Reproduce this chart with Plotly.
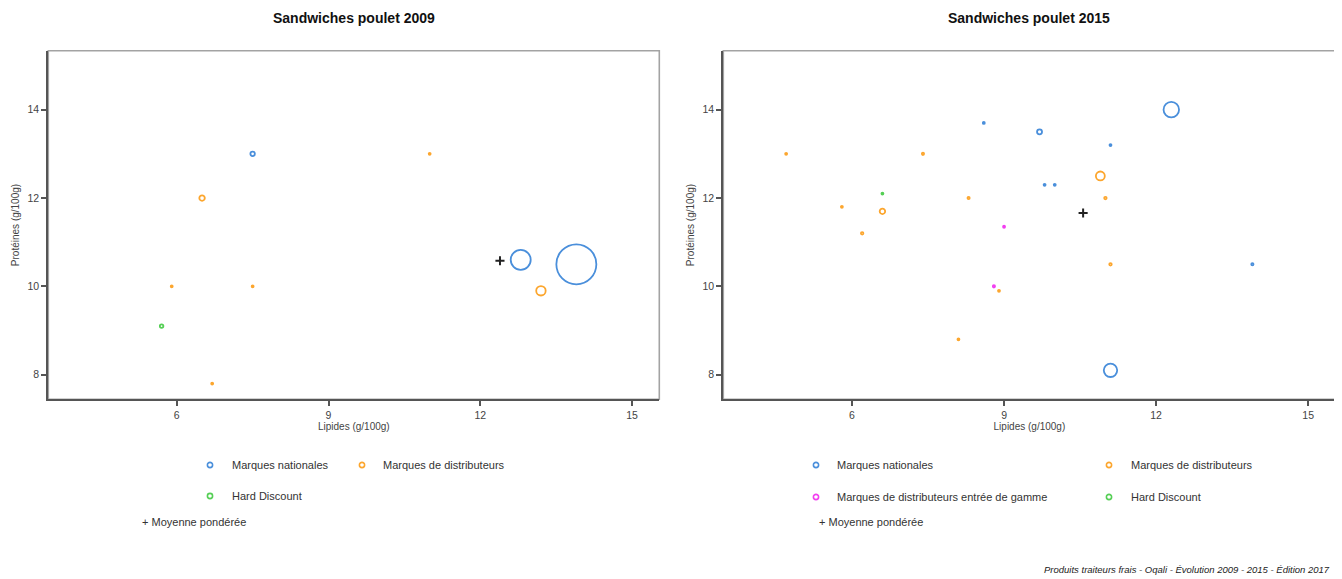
import numpy as np
import plotly.graph_objects as go

# page body has an 8px margin: the figure is sized to fit the remaining viewport
OFF = 8
W, H = 1342 - OFF, 579 - OFF

# ---------------- data ----------------
series_names = ["Marques nationales", "Marques de distributeurs",
                "Marques de distributeurs entrée de gamme", "Hard Discount"]
series_colors = ["#4a8fdb", "#fca62e", "#f23ef0", "#55cf55"]

titles = ["Sandwiches poulet 2009", "Sandwiches poulet 2015"]

# 2009
mn09_lip = [7.5, 12.8, 13.9]
mn09_pro = [13.0, 10.6, 10.5]
mn09_part = [0.4, 8.0, 32.0]

mdd09_lip = [6.5, 11.0, 5.9, 7.5, 6.7, 13.2]
mdd09_pro = [12.0, 13.0, 10.0, 10.0, 7.8, 9.9]
mdd09_part = [0.6, 0.08, 0.08, 0.08, 0.08, 1.8]

hd09_lip = [5.7]
hd09_pro = [9.1]
hd09_part = [0.25]

moy09_lip = [12.39]
moy09_pro = [10.58]

# 2015
mn15_lip = [8.6, 9.7, 12.3, 11.1, 9.8, 10.0, 13.9, 11.1]
mn15_pro = [13.7, 13.5, 14.0, 13.2, 12.3, 12.3, 10.5, 8.1]
mn15_part = [0.08, 0.5, 4.8, 0.08, 0.08, 0.08, 0.1, 3.6]

mdd15_lip = [4.7, 7.4, 5.8, 6.6, 6.2, 8.3, 10.9, 11.0, 11.1, 8.9, 8.1]
mdd15_pro = [13.0, 13.0, 11.8, 11.7, 11.2, 12.0, 12.5, 12.0, 10.5, 9.9, 8.8]
mdd15_part = [0.08, 0.1, 0.06, 0.6, 0.125, 0.1, 1.6, 0.125, 0.125, 0.08, 0.08]

mddeg15_lip = [9.0, 8.8]
mddeg15_pro = [11.35, 10.0]
mddeg15_part = [0.08, 0.1]

hd15_lip = [6.6]
hd15_pro = [12.1]
hd15_part = [0.06]

moy15_lip = [10.56]
moy15_pro = [11.66]

x_ticks = [6, 9, 12, 15]
y_ticks = [8, 10, 12, 14]
x_title = "Lipides (g/100g)"
y_title = "Protéines (g/100g)"
moy_label = "+ Moyenne pondérée"
footer = "Produits traiteurs frais - Oqali - Évolution 2009 - 2015 - Édition 2017"

# ---------------- helpers ----------------
def px(x):
    return (x - OFF) / W

def py(y):
    return 1 - (y - OFF) / H

def diam(part):
    return np.maximum(7.07 * np.sqrt(np.array(part, dtype=float)), 2.0)

FONT = "Liberation Sans, Arial, sans-serif"

fig = go.Figure()

def add_series(lip, pro, part, idx, ax):
    fig.add_trace(go.Scatter(
        x=lip, y=pro, mode="markers", name=series_names[idx],
        xaxis="x" + ax, yaxis="y" + ax, showlegend=False,
        marker=dict(symbol="circle-open", size=diam(part), opacity=1,
                    color=series_colors[idx],
                    line=dict(width=1.8, color=series_colors[idx])),
        hoverinfo="x+y+name"))

def add_mean(lip, pro, ax):
    fig.add_trace(go.Scatter(
        x=lip, y=pro, mode="markers", name="Moyenne pondérée",
        xaxis="x" + ax, yaxis="y" + ax, showlegend=False,
        marker=dict(symbol="cross-thin", size=6.5, color="#222", opacity=1,
                    line=dict(width=2, color="#222"))))

add_series(mn09_lip, mn09_pro, mn09_part, 0, "")
add_series(mdd09_lip, mdd09_pro, mdd09_part, 1, "")
add_series(hd09_lip, hd09_pro, hd09_part, 3, "")
add_mean(moy09_lip, moy09_pro, "")

add_series(mn15_lip, mn15_pro, mn15_part, 0, "2")
add_series(mdd15_lip, mdd15_pro, mdd15_part, 1, "2")
add_series(mddeg15_lip, mddeg15_pro, mddeg15_part, 2, "2")
add_series(hd15_lip, hd15_pro, hd15_part, 3, "2")
add_mean(moy15_lip, moy15_pro, "2")

# plot frames (pixel positions in the page)
frames = [(48.3, 659.3), (723.3, 1335.5)]
top_px, bot_px = 50.7, 399.3
xr = [3.46, 15.54]
yr = [7.443, 15.336]

axis_common = dict(showgrid=False, zeroline=False, showline=True,
                   linecolor="#555", linewidth=2, ticks="outside",
                   ticklen=5, tickwidth=1.5, tickcolor="#555",
                   tickfont=dict(family=FONT, size=10.5, color="#444"))

layout_axes = {}
for i, (l, r) in enumerate(frames):
    sfx = "" if i == 0 else "2"
    layout_axes["xaxis" + sfx] = dict(
        axis_common, domain=[px(l), px(r)], range=xr, tickvals=x_ticks,
        anchor="y" + sfx,
        title=dict(text=x_title, font=dict(family=FONT, size=10, color="#444"),
                   standoff=2))
    layout_axes["yaxis" + sfx] = dict(
        axis_common, domain=[py(bot_px), py(top_px)], range=yr, tickvals=y_ticks,
        anchor="x" + sfx,
        title=dict(text=y_title, font=dict(family=FONT, size=10, color="#444"),
                   standoff=6))

shapes = []
annotations = []
for i, (l, r) in enumerate(frames):
    shapes.append(dict(type="rect", xref="paper", yref="paper",
                       x0=px(l), x1=px(r), y0=py(bot_px), y1=py(top_px),
                       line=dict(color="#a3a3a3", width=1.6), layer="below"))
    annotations.append(dict(text="<b>" + titles[i] + "</b>", xref="paper", yref="paper",
                            x=px((l + r) / 2), y=py(18), xanchor="center", yanchor="middle",
                            showarrow=False, font=dict(family=FONT, size=14, color="#111")))

def legend_item(mx, my, idx, tx):
    shapes.append(dict(type="circle", xref="paper", yref="paper",
                       xsizemode="pixel", ysizemode="pixel",
                       xanchor=px(mx), yanchor=py(my),
                       x0=-2.6, x1=2.6, y0=-2.6, y1=2.6,
                       line=dict(color=series_colors[idx], width=1.6)))
    annotations.append(dict(text=series_names[idx], xref="paper", yref="paper",
                            x=px(tx), y=py(my), xanchor="left", yanchor="middle",
                            showarrow=False,
                            font=dict(family=FONT, size=11, color="#333")))

# left legend
legend_item(210, 465, 0, 230)
legend_item(362, 465, 1, 381)
legend_item(210, 496, 3, 230)
annotations.append(dict(text=moy_label, xref="paper", yref="paper", x=px(140), y=py(522),
                        xanchor="left", yanchor="middle", showarrow=False,
                        font=dict(family=FONT, size=11, color="#333")))
# right legend
legend_item(816, 465, 0, 835)
legend_item(1109, 465, 1, 1129)
legend_item(816, 497, 2, 835)
legend_item(1109, 497, 3, 1129)
annotations.append(dict(text=moy_label, xref="paper", yref="paper", x=px(817), y=py(522),
                        xanchor="left", yanchor="middle", showarrow=False,
                        font=dict(family=FONT, size=11, color="#333")))

annotations.append(dict(text="<i>" + footer + "</i>", xref="paper", yref="paper",
                        x=px(1332), y=py(569), xanchor="right", yanchor="middle",
                        showarrow=False,
                        font=dict(family=FONT, size=9.5, color="#222")))

fig.update_layout(
    width=W, height=H, margin=dict(l=0, r=0, t=0, b=0),
    paper_bgcolor="white", plot_bgcolor="white",
    showlegend=False, shapes=shapes, annotations=annotations,
    **layout_axes)

fig.write_html("out.html")
